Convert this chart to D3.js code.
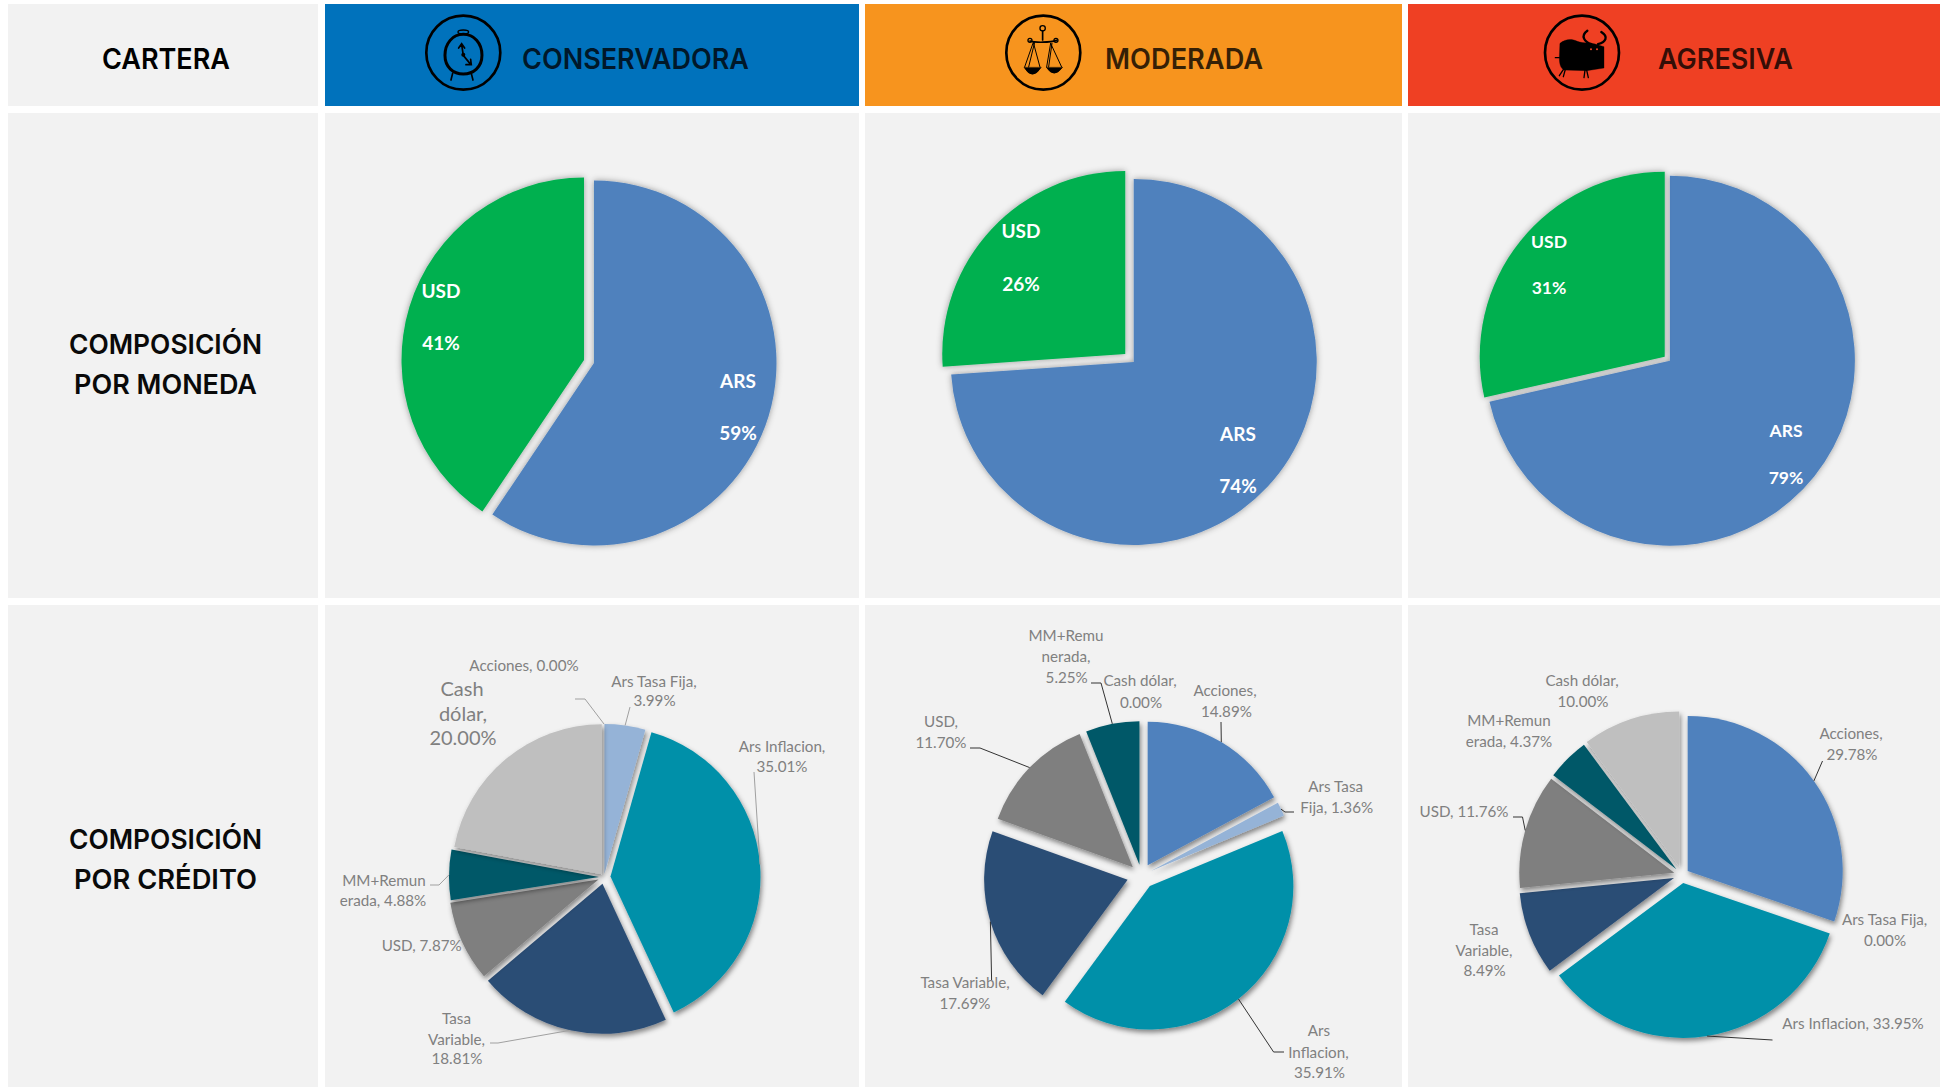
<!DOCTYPE html>
<html>
<head>
<meta charset="utf-8">
<title>Carteras</title>
<script src="https://cdn.jsdelivr.net/npm/d3@7"></script>
<style>
  html, body { margin: 0; padding: 0; background: #fff; }
  svg { display: block; }
</style>
</head>
<body>
<div id="chart"></div>
<script>
// ---- data ----
const carteras = ['CONSERVADORA', 'MODERADA', 'AGRESIVA'];
const monedaCategories = ['ARS', 'USD'];
const monedaConservadora = [59.4, 40.6];
const monedaModerada = [73.9, 26.1];
const monedaAgresiva = [78.6, 31.4];

const creditoCategories = ['Acciones', 'Ars Tasa Fija', 'Ars Inflacion', 'Tasa Variable', 'USD', 'MM+Remunerada', 'Cash dólar'];
const creditoConservadora = [0, 3.99, 35.01, 18.81, 7.87, 4.88, 20];
const creditoModerada = [14.89, 1.36, 35.91, 17.69, 11.7, 5.25, 0];
const creditoAgresiva = [29.78, 0, 33.95, 8.49, 11.76, 4.37, 10];

// ---- layout and style ----
const width = 1947;
const height = 1087;

const columns = [
  { x0: 8, x1: 318 },
  { x0: 325, x1: 859 },
  { x0: 865, x1: 1402 },
  { x0: 1408, x1: 1940 }
];
const rows = [
  { y0: 4, y1: 106 },
  { y0: 113, y1: 598 },
  { y0: 605, y1: 1087 }
];
const headerFill = ['#0072bc', '#f7941e', '#ef4023'];
const monedaFill = ['#4f81bd', '#00b050'];
const creditoFill = ['#4f81bd', '#95b3d7', '#0090a9', '#2c4d75', '#7f7f7f', '#005868', '#bfbfbf'];

const monedaPies = [
  { values: monedaConservadora, cx: 589, cy: 361.5, r: 182.5, explode: 5.2,
    labels: [{ x: 738, y: [388, 440], size: 19 }, { x: 441, y: [298, 350], size: 19 }] },
  { values: monedaModerada, cx: 1129.5, cy: 358, r: 183, explode: 5.8,
    labels: [{ x: 1238, y: [441, 493], size: 19 }, { x: 1021, y: [238, 291], size: 19 }] },
  { values: monedaAgresiva, cx: 1667.3, cy: 358.7, r: 185, explode: 3.3,
    labels: [{ x: 1786, y: [437, 484], size: 17.5 }, { x: 1549, y: [248, 294], size: 17.5 }] }
];

// label lines are [centre x, baseline y, characters taken from the label text]
// leader holds the points on the text side, the last point comes from the slice
const creditoPies = [
  { values: creditoConservadora, cx: 604, cy: 877, r: 150, explode: [3, 3, 6.5, 7, 6, 5, 3.5], leaderColor: '#a0a0a0',
    labels: [
      { lines: [[524, 671, 99]], leader: [[575, 699], [585, 699]] },
      { lines: [[654, 687, 14], [654.5, 706, 99]], leader: [[630, 707]] },
      { lines: [[782, 752, 14], [782, 772, 99]], leader: [[754, 772]] },
      { lines: [[456.5, 1024, 4], [456.5, 1045, 10], [457, 1064, 99]], leader: [[490, 1043], [498, 1043]] },
      { lines: [[421.7, 951, 99]] },
      { lines: [[384, 886, 8], [383, 906, 99]], leader: [[430, 885], [439, 885]] },
      { lines: [[462, 696, 4], [463, 721, 7], [463, 745, 99]], size: 20 }
    ] },
  { values: creditoModerada, cx: 1141.5, cy: 875.5, r: 143.5, explode: [12, 11, 13.5, 14.5, 12, 11, 0], leaderColor: '#333',
    labels: [
      { lines: [[1225, 696, 9], [1226.4, 717, 99]], leader: [[1221, 722]] },
      { lines: [[1335.7, 792, 8], [1336.7, 813, 99]], leader: [[1294, 812], [1285, 812]] },
      { lines: [[1319, 1036, 3], [1318.4, 1058, 11], [1319.5, 1078, 99]], leader: [[1284, 1052], [1273.6, 1052]] },
      { lines: [[965, 988, 14], [965, 1009, 99]], leader: [[991.6, 980]] },
      { lines: [[941, 727, 4], [941, 748, 99]], leader: [[970, 748], [980, 748]] },
      { lines: [[1066, 641, 7], [1066, 662, 7], [1066.7, 683, 99]], leader: [[1091, 683], [1101, 683]] },
      { lines: [[1140, 686, 11], [1141, 708, 99]] }
    ] },
  { values: creditoAgresiva, cx: 1682, cy: 875, r: 155, explode: [7, 0, 8, 8.6, 8, 8, 9], leaderColor: '#333',
    labels: [
      { lines: [[1851, 739, 9], [1852, 760, 99]], leader: [[1822.5, 761]] },
      { lines: [[1884.6, 925, 14], [1885, 946, 99]] },
      { lines: [[1853, 1029, 99]], leader: [[1772.5, 1040]] },
      { lines: [[1484, 935, 4], [1484, 956, 10], [1484.6, 976, 99]] },
      { lines: [[1464, 817, 99]], leader: [[1513, 817], [1522.5, 817]] },
      { lines: [[1509, 726, 8], [1509, 747, 99]] },
      { lines: [[1582, 686, 11], [1583, 707, 99]] }
    ] }
];

const headerTexts = [
  { text: 'CARTERA', x0: 102, x1: 230 },
  { text: carteras[0], x0: 522, x1: 749 },
  { text: carteras[1], x0: 1105, x1: 1263 },
  { text: carteras[2], x0: 1658, x1: 1793 }
];
const rowTexts = [
  { text: 'COMPOSICIÓN', x0: 69, x1: 262, y: 354 },
  { text: 'POR MONEDA', x0: 74, x1: 257, y: 394 },
  { text: 'COMPOSICIÓN', x0: 69, x1: 262, y: 849 },
  { text: 'POR CRÉDITO', x0: 74, x1: 257, y: 889 }
];

const svg = d3.select('#chart').append('svg')
  .attr('width', width)
  .attr('height', height)
  .attr('viewBox', `0 0 ${width} ${height}`);

const defs = svg.append('defs');
defs.append('filter').attr('id', 'softGlow')
  .attr('x', '-20%').attr('y', '-20%').attr('width', '140%').attr('height', '140%')
  .append('feDropShadow')
  .attr('dx', 0).attr('dy', 0).attr('stdDeviation', 3)
  .attr('flood-color', '#000').attr('flood-opacity', 0.38);
defs.append('filter').attr('id', 'dropShade')
  .attr('x', '-20%').attr('y', '-20%').attr('width', '140%').attr('height', '140%')
  .append('feDropShadow')
  .attr('dx', 1.5).attr('dy', 3).attr('stdDeviation', 2.5)
  .attr('flood-color', '#000').attr('flood-opacity', 0.45);

// grid of panels
rows.forEach((row, r) => {
  columns.forEach((col, c) => {
    svg.append('rect')
      .attr('x', col.x0).attr('y', row.y0)
      .attr('width', col.x1 - col.x0).attr('height', row.y1 - row.y0)
      .attr('fill', r === 0 && c > 0 ? headerFill[c - 1] : '#f2f2f2');
  });
});

// header and row titles, squeezed to the measured width
headerTexts.forEach((d, i) => {
  svg.append('text')
    .attr('x', d.x0).attr('y', 69)
    .attr('textLength', d.x1 - d.x0).attr('lengthAdjust', 'spacingAndGlyphs')
    .attr('font-family', 'Inter, sans-serif').attr('font-size', 28.5).attr('font-weight', 600)
    .attr('fill', '#000').attr('fill-opacity', i === 0 ? 1 : 0.78)
    .text(d.text);
});
rowTexts.forEach((d) => {
  svg.append('text')
    .attr('x', d.x0).attr('y', d.y)
    .attr('textLength', d.x1 - d.x0).attr('lengthAdjust', 'spacingAndGlyphs')
    .attr('font-family', 'Inter, sans-serif').attr('font-size', 27.5).attr('font-weight', 600)
    .attr('fill', '#0a0a0a')
    .text(d.text);
});

// icons, drawn in a 3x unit space around the ring centre
function iconGroup(x) {
  const g = svg.append('g')
    .attr('transform', `translate(${x},52.7) scale(0.3333)`)
    .attr('fill', 'none').attr('stroke', '#000').attr('stroke-linecap', 'round');
  g.append('circle').attr('r', 111).attr('stroke-width', 8);
  return g;
}

const clock = iconGroup(463.3);
clock.append('path').attr('stroke-width', 9)
  .attr('d', 'M0,-55 C32,-55 56,-28 56,8 C56,44 30,64 0,64 C-30,64 -55,44 -55,8 C-55,-28 -32,-55 0,-55');
clock.append('ellipse').attr('cy', -62).attr('rx', 16).attr('ry', 6).attr('stroke-width', 4);
clock.append('path').attr('stroke-width', 5).attr('d', 'M-32,62 L-37,82 M24,62 L29,82');
clock.append('path').attr('stroke-width', 5)
  .attr('d', 'M0,8 L-5,-25 M-14,-14 L-5,-27 L4,-14 M0,8 L22,35 M8,36 L24,36 L22,20');
clock.append('circle').attr('cy', 6).attr('r', 6).attr('fill', '#000').attr('stroke', 'none');

const scale = iconGroup(1043.3);
scale.append('circle').attr('cx', -2).attr('cy', -73).attr('r', 8).attr('stroke-width', 4);
scale.append('path').attr('stroke-width', 5).attr('d', 'M-2,-65 L-2,-38 M-40,-35 C-25,-30 20,-30 40,-37');
scale.append('circle').attr('cx', -40).attr('cy', -37).attr('r', 6).attr('stroke-width', 4);
scale.append('circle').attr('cx', 38).attr('cy', -37).attr('r', 6).attr('stroke-width', 4);
scale.append('path').attr('stroke-width', 3).attr('d', 'M-30,-31 L-56,43 M-30,-31 L-10,43 M-26,-31 L-44,43 M22,-28 L10,43 M22,-28 L55,43 M26,-28 L16,43');
scale.append('path').attr('fill', '#000').attr('stroke-width', 2).attr('d', 'M-57,45 Q-33,85 -7,45 Z');
scale.append('path').attr('fill', '#000').attr('stroke-width', 2).attr('d', 'M10,45 Q32,78 57,45 Z');

const bull = iconGroup(1582);
bull.append('path').attr('fill', '#000').attr('stroke-width', 1)
  .attr('d', 'M-66,-28 C-50,-42 -30,-42 -14,-34 C5,-27 30,-30 42,-25 L66,-18 L66,46 L14,54 L-54,52 C-66,46 -68,30 -68,14 Z');
bull.append('path').attr('stroke-width', 7).attr('d', 'M28,-26 C8,-32 -6,-50 16,-66');
bull.append('path').attr('stroke-width', 7).attr('d', 'M48,-26 C72,-32 80,-48 58,-62');
bull.append('path').attr('stroke-width', 4).attr('d', 'M-68,15 L-80,15 M-54,48 L-68,69 M-50,50 L-56,72 M9,52 L6,75 M14,52 L19,75');
bull.append('circle').attr('cx', 27).attr('cy', -10).attr('r', 3).attr('fill', headerFill[2]).attr('stroke', 'none');
bull.append('circle').attr('cx', 45).attr('cy', -10).attr('r', 3).attr('fill', headerFill[2]).attr('stroke', 'none');

// pie helpers
const pie = d3.pie().sort(null).value((d) => d);

function sliceOffset(slice, dist) {
  const mid = (slice.startAngle + slice.endAngle) / 2;
  return [Math.sin(mid) * dist, -Math.cos(mid) * dist];
}

// moneda row
monedaPies.forEach((conf) => {
  const arc = d3.arc().innerRadius(0).outerRadius(conf.r);
  const g = svg.append('g').attr('transform', `translate(${conf.cx},${conf.cy})`);
  const slices = pie(conf.values);

  g.selectAll('path').data(slices).join('path')
    .attr('transform', (d) => `translate(${sliceOffset(d, conf.explode)})`)
    .attr('d', arc)
    .attr('fill', (d, i) => monedaFill[i])
    .attr('filter', 'url(#softGlow)');

  slices.forEach((d, i) => {
    const label = conf.labels[i];
    [monedaCategories[i], `${Math.round(d.data)}%`].forEach((txt, k) => {
      svg.append('text')
        .attr('x', label.x).attr('y', label.y[k])
        .attr('text-anchor', 'middle')
        .attr('font-family', 'Lato, sans-serif').attr('font-weight', 700)
        .attr('font-size', label.size)
        .attr('fill', '#fff')
        .text(txt);
    });
  });
});

// credito row
creditoPies.forEach((conf) => {
  const arc = d3.arc().innerRadius(0).outerRadius(conf.r);
  const g = svg.append('g').attr('transform', `translate(${conf.cx},${conf.cy})`);
  const slices = pie(conf.values);

  g.selectAll('path').data(slices.filter((d) => d.data > 0)).join('path')
    .attr('transform', (d) => `translate(${sliceOffset(d, conf.explode[d.index])})`)
    .attr('d', arc)
    .attr('fill', (d) => creditoFill[d.index])
    .attr('filter', 'url(#dropShade)');

  slices.forEach((d, i) => {
    const label = conf.labels[i];
    if (label.leader) {
      const off = sliceOffset(d, conf.explode[i] + conf.r);
      const pts = label.leader.concat([[conf.cx + off[0], conf.cy + off[1]]]);
      svg.append('path')
        .attr('d', d3.line()(pts))
        .attr('fill', 'none')
        .attr('stroke', conf.leaderColor)
        .attr('stroke-width', 1);
    }

    // label text split into its lines
    let rest = `${creditoCategories[i]}, ${d.data.toFixed(2)}%`;
    label.lines.forEach((line) => {
      const part = rest.slice(0, line[2]).trim();
      rest = rest.slice(line[2]);
      svg.append('text')
        .attr('x', line[0]).attr('y', line[1])
        .attr('text-anchor', 'middle')
        .attr('font-family', 'Lato, sans-serif')
        .attr('font-size', label.size || 15.2)
        .attr('fill', '#808080')
        .text(part);
    });
  });
});
</script>
</body>
</html>
